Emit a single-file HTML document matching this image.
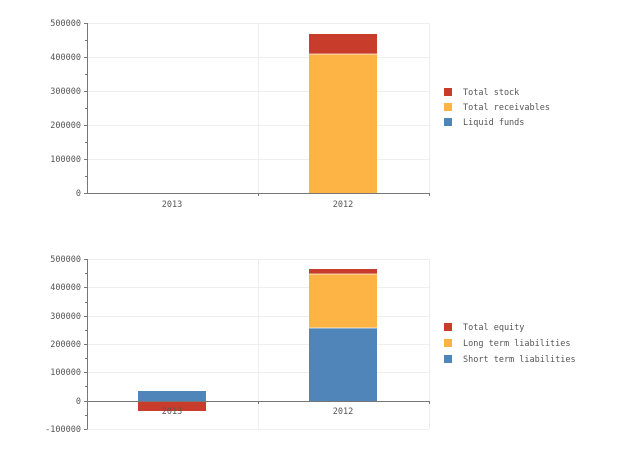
<!DOCTYPE html>
<html><head><style>body{margin:0;background:#fff}svg{display:block}text{font-family:"DejaVu Sans Mono","Liberation Mono",monospace;font-size:8.5px;fill:#555}</style></head><body>
<svg width="643" height="451" xmlns="http://www.w3.org/2000/svg">
<g stroke="#eee" stroke-width="1">
<line x1="87" y1="23.5" x2="429" y2="23.5"/><line x1="87" y1="57.5" x2="429" y2="57.5"/><line x1="87" y1="91.5" x2="429" y2="91.5"/><line x1="87" y1="125.5" x2="429" y2="125.5"/><line x1="87" y1="159.5" x2="429" y2="159.5"/>
<line x1="258.5" y1="23" x2="258.5" y2="193"/><line x1="429.5" y1="23" x2="429.5" y2="193"/>
<line x1="87" y1="259.5" x2="429" y2="259.5"/><line x1="87" y1="287.5" x2="429" y2="287.5"/><line x1="87" y1="316.5" x2="429" y2="316.5"/><line x1="87" y1="344.5" x2="429" y2="344.5"/><line x1="87" y1="372.5" x2="429" y2="372.5"/><line x1="87" y1="429.5" x2="429" y2="429.5"/>
<line x1="258.5" y1="259" x2="258.5" y2="429"/><line x1="429.5" y1="259" x2="429.5" y2="429"/>
</g>
<rect x="309" y="54" width="68" height="139" fill="#fdb445"/>
<rect x="309" y="34" width="68" height="20" fill="#c83c2c"/>
<rect x="309" y="53.5" width="68" height="1" fill="#fff" opacity="0.7"/>
<rect x="138" y="391" width="68" height="10" fill="#4f85b9"/>
<rect x="138" y="401" width="68" height="10" fill="#c83c2c"/>
<rect x="309" y="328" width="68" height="73" fill="#4f85b9"/>
<rect x="309" y="274" width="68" height="54" fill="#fdb445"/>
<rect x="309" y="269" width="68" height="5" fill="#c83c2c"/>
<rect x="309" y="327.5" width="68" height="1" fill="#fff" opacity="0.7"/>
<rect x="309" y="273.5" width="68" height="1" fill="#fff" opacity="0.7"/>
<g stroke="#777" stroke-width="1" fill="none">
<path d="M87.5 23V193.5H429.5"/>
<path d="M84 23.5h3M84 57.5h3M84 91.5h3M84 125.5h3M84 159.5h3M84 193.5h3M258.5 193v3M429.5 193v3"/>
<path d="M85 40.5h2M85 74.5h2M85 108.5h2M85 142.5h2M85 176.5h2"/>
<path d="M87.5 259V429.5"/><path d="M87 401.5H429.5"/>
<path d="M84 259.5h3M84 287.5h3M84 316.5h3M84 344.5h3M84 372.5h3M84 401.5h3M84 429.5h3M258.5 401v3M429.5 401v3"/>
<path d="M85 273.5h2M85 302.5h2M85 330.5h2M85 358.5h2M85 386.5h2M85 415.5h2"/>
</g>
<g text-anchor="end">
<text x="81" y="26">500000</text><text x="81" y="60">400000</text><text x="81" y="94">300000</text><text x="81" y="128">200000</text><text x="81" y="162">100000</text><text x="81" y="196">0</text>
<text x="81" y="262">500000</text><text x="81" y="290">400000</text><text x="81" y="319">300000</text><text x="81" y="347">200000</text><text x="81" y="375">100000</text><text x="81" y="404">0</text><text x="81" y="432">-100000</text>
</g>
<g text-anchor="middle">
<text x="172" y="207">2013</text><text x="343" y="207">2012</text>
<text x="172" y="414">2013</text><text x="343" y="414">2012</text>
</g>
<rect x="444" y="88" width="8" height="8" fill="#c83c2c"/><rect x="444" y="103" width="8" height="8" fill="#fdb445"/><rect x="444" y="118" width="8" height="8" fill="#4f85b9"/>
<text x="463" y="95">Total stock</text><text x="463" y="110">Total receivables</text><text x="463" y="125">Liquid funds</text>
<rect x="444" y="323" width="8" height="8" fill="#c83c2c"/><rect x="444" y="339" width="8" height="8" fill="#fdb445"/><rect x="444" y="355" width="8" height="8" fill="#4f85b9"/>
<text x="463" y="330">Total equity</text><text x="463" y="346">Long term liabilities</text><text x="463" y="362">Short term liabilities</text>
</svg>
</body></html>
